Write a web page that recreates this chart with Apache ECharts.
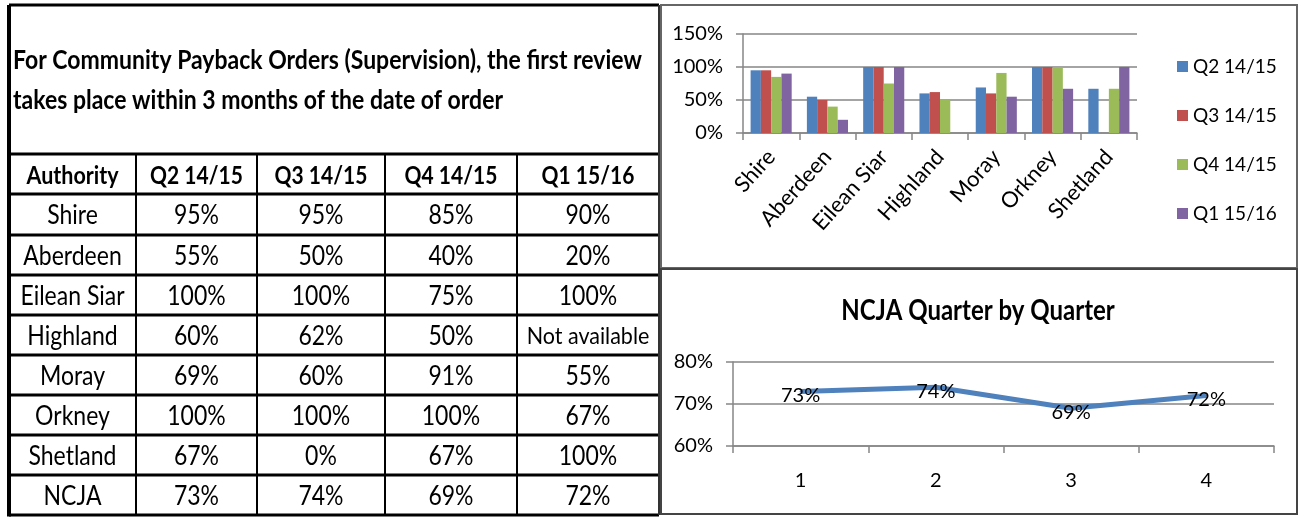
<!DOCTYPE html>
<html>
<head>
<meta charset="utf-8">
<title>Community Payback Orders</title>
<script src="https://cdn.jsdelivr.net/npm/echarts@6/dist/echarts.min.js"></script>
<style>
  html, body { margin: 0; padding: 0; background: #fff; }
  #main { width: 1302px; height: 517px; }
</style>
</head>
<body>
<div id="main"></div>
<script>
  const titleLines = [
    'For Community Payback Orders (Supervision), the first review',
    'takes place within 3 months of the date of order'
  ];
  const authorities = ['Shire', 'Aberdeen', 'Eilean Siar', 'Highland', 'Moray', 'Orkney', 'Shetland'];
  const quarters = ['Q2 14/15', 'Q3 14/15', 'Q4 14/15', 'Q1 15/16'];
  const q2 = [95, 55, 100, 60, 69, 100, 67];
  const q3 = [95, 50, 100, 62, 60, 100, 0];
  const q4 = [85, 40, 75, 50, 91, 100, 67];
  const q1 = [90, 20, 100, null, 55, 67, 100];
  const ncjaName = 'NCJA';
  const ncja = [73, 74, 69, 72];
  const quarterTicks = ['1', '2', '3', '4'];
  const barTicks = [0, 50, 100, 150];
  const lineTicks = [60, 70, 80];

  const colors = ['#4F81BD', '#C0504D', '#9BBB59', '#8064A2'];
  const FONT = 'Lato, "Open Sans", sans-serif';

  // table geometry
  const colX = [9, 136, 257, 385, 517, 659];
  const rowY = [154, 194, 235, 275, 315, 355, 395, 435, 475, 515];
  const tableTop = 5;

  const graphics = [];
  // text drawn a bit taller than wide, like the original (narrow font)
  function txt(s, x, y, size, bold, align, sy) {
    graphics.push({
      type: 'text',
      x: x, y: y,
      scaleY: sy || 1.18,
      style: {
        text: s, x: 0, y: 0,
        font: (bold ? 'bold ' : '') + size + 'px ' + FONT,
        fill: '#000',
        align: align || 'center', textAlign: align || 'center',
        verticalAlign: 'middle', textVerticalAlign: 'middle'
      }
    });
  }
  function ln(x1, y1, x2, y2, w, c) {
    graphics.push({
      type: 'line',
      shape: { x1: x1, y1: y1, x2: x2, y2: y2 },
      style: { stroke: c || '#000', lineWidth: w }
    });
  }

  // title block
  txt(titleLines[0], 13, 61, 23, true, 'left', 1.12);
  txt(titleLines[1], 13, 101, 23, true, 'left', 1.12);

  // header row
  txt('Authority', (colX[0] + colX[1]) / 2, (rowY[0] + rowY[1]) / 2 + 2, 21.5, true);
  quarters.forEach((q, i) => {
    txt(q, (colX[i + 1] + colX[i + 2]) / 2, (rowY[0] + rowY[1]) / 2 + 2, 21, true);
  });

  // body rows
  const cols = [q2, q3, q4, q1];
  const rowNames = authorities.concat([ncjaName]);
  rowNames.forEach((name, r) => {
    const cy = (rowY[r + 1] + rowY[r + 2]) / 2 + 1;
    txt(name, (colX[0] + colX[1]) / 2, cy, 23, false);
    for (let c = 0; c < 4; c++) {
      const v = r < authorities.length ? cols[c][r] : ncja[c];
      const cx = (colX[c + 1] + colX[c + 2]) / 2;
      if (v === null) {
        txt('Not available', cx, cy, 21.5, false, 'center', 1.1);
      } else {
        txt(v + '%', cx, cy, 23, false);
      }
    }
  });

  // table lines
  rowY.forEach(y => ln(colX[0], y, colX[5], y, 3));
  for (let i = 1; i < 5; i++) ln(colX[i], rowY[0], colX[i], rowY[rowY.length - 1], 2);
  ln(colX[0], tableTop, colX[0], rowY[rowY.length - 1] + 1.5, 4);
  ln(colX[0], tableTop, colX[5], tableTop, 3);
  ln(colX[5], tableTop, colX[5], rowY[rowY.length - 1], 2, '#333');

  // right panel frames
  graphics.push({ type: 'rect', shape: { x: 661, y: 5, width: 636, height: 263 },
    style: { fill: 'none', stroke: '#666', lineWidth: 2 } });
  graphics.push({ type: 'rect', shape: { x: 661, y: 269, width: 636, height: 245 },
    style: { fill: 'none', stroke: '#444', lineWidth: 2 } });

  // line chart title
  txt('NCJA Quarter by Quarter', 978, 311, 24, true, 'center', 1.15);

  const axisGray = '#868686';

  const chart = echarts.init(document.getElementById('main'));
  const option = {
    animation: false,
    backgroundColor: '#fff',
    color: colors,
    textStyle: { fontFamily: FONT },
    graphic: graphics,
    legend: {
      orient: 'vertical',
      left: 1172,
      top: 52,
      itemGap: 30,
      itemWidth: 11,
      itemHeight: 11,
      icon: 'rect',
      textStyle: { fontSize: 19, color: '#000', fontFamily: FONT },
      data: quarters
    },
    grid: [
      { left: 743, top: 34, width: 394, height: 99 },
      { left: 733, top: 362, width: 541, height: 84 }
    ],
    xAxis: [
      {
        gridIndex: 0,
        type: 'category',
        data: authorities,
        axisLine: { lineStyle: { color: axisGray, width: 1.5 } },
        axisTick: { show: true, length: 7, lineStyle: { color: axisGray, width: 1.5 } },
        axisLabel: { rotate: 48, interval: 0, margin: 20, fontSize: 22, color: '#000', fontFamily: FONT }
      },
      {
        gridIndex: 1,
        type: 'category',
        data: quarterTicks,
        axisLine: { lineStyle: { color: axisGray, width: 1.5 } },
        axisTick: { show: true, length: 7, lineStyle: { color: axisGray, width: 1.5 } },
        axisLabel: { margin: 25, fontSize: 20, color: '#000', fontFamily: FONT }
      }
    ],
    yAxis: [
      {
        gridIndex: 0,
        type: 'value',
        min: barTicks[0], max: barTicks[barTicks.length - 1], interval: 50,
        axisLine: { show: true, lineStyle: { color: axisGray, width: 1.5 } },
        axisTick: { show: true, length: 7, lineStyle: { color: axisGray, width: 1.5 } },
        splitLine: { lineStyle: { color: axisGray, width: 1.5 } },
        axisLabel: { formatter: '{value}%', margin: 20, fontSize: 20, color: '#000', fontFamily: FONT }
      },
      {
        gridIndex: 1,
        type: 'value',
        min: lineTicks[0], max: lineTicks[lineTicks.length - 1], interval: 10,
        axisLine: { show: true, lineStyle: { color: axisGray, width: 1.5 } },
        axisTick: { show: true, length: 7, lineStyle: { color: axisGray, width: 1.5 } },
        splitLine: { lineStyle: { color: axisGray, width: 1.5 } },
        axisLabel: { formatter: '{value}%', margin: 20, fontSize: 20, color: '#000', fontFamily: FONT }
      }
    ],
    series: [
      { name: quarters[0], type: 'bar', xAxisIndex: 0, yAxisIndex: 0, barGap: '0%', barCategoryGap: '27%', data: q2 },
      { name: quarters[1], type: 'bar', xAxisIndex: 0, yAxisIndex: 0, barGap: '0%', barCategoryGap: '27%', data: q3 },
      { name: quarters[2], type: 'bar', xAxisIndex: 0, yAxisIndex: 0, barGap: '0%', barCategoryGap: '27%', data: q4 },
      { name: quarters[3], type: 'bar', xAxisIndex: 0, yAxisIndex: 0, barGap: '0%', barCategoryGap: '27%', data: q1 },
      {
        name: ncjaName,
        type: 'line',
        xAxisIndex: 1, yAxisIndex: 1,
        data: ncja,
        symbol: 'circle',
        symbolSize: 2,
        itemStyle: { color: '#4F81BD' },
        lineStyle: { color: '#4F81BD', width: 5 },
        label: {
          show: true,
          position: 'inside',
          offset: [0, 4],
          formatter: '{c}%',
          fontSize: 20,
          color: '#000',
          fontFamily: FONT
        }
      }
    ]
  };
  chart.setOption(option);
</script>
</body>
</html>
